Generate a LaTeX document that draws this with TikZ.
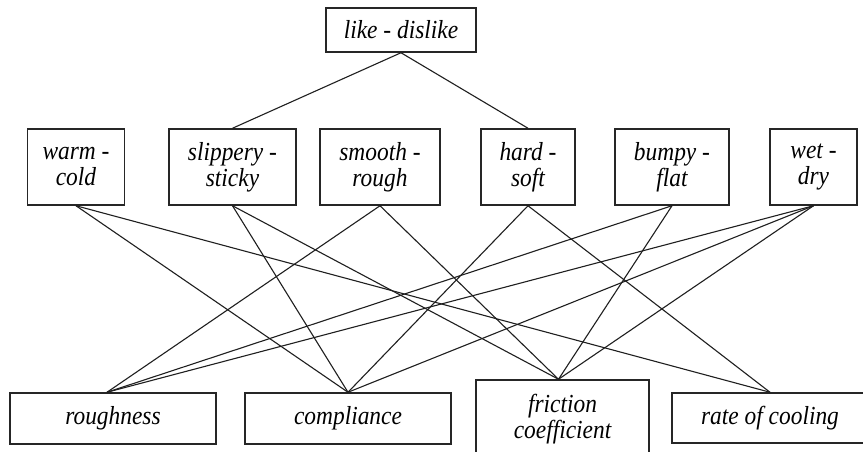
\documentclass[tikz,border=0pt]{standalone}
\usepackage{fontspec}
\setmainfont[FakeStretch=0.9]{Liberation Serif}
\begin{document}
\begin{tikzpicture}[x=1pt,y=-1pt,
  box/.style={draw=black!85, line width=1.5pt, inner sep=0pt, align=center,
    font=\fontsize{26}{26}\selectfont\itshape},
  link/.style={draw=black!88, line width=1.1pt}]
\useasboundingbox (0,0) rectangle (863,452);
\fill[white] (0,0) rectangle (863,452);
\clip (0,0) rectangle (863,452);
% top
\node[box, minimum width=150pt, minimum height=44pt] (like) at (401,30) {like - dislike};
% middle row
\node[box, minimum width=97pt,  minimum height=76pt] (warm) at (76,167) {warm -\\cold};
\node[box, minimum width=127pt, minimum height=76pt] (slip) at (232.5,167) {slippery -\\sticky};
\node[box, minimum width=120pt, minimum height=76pt] (smooth) at (380,167) {smooth -\\rough};
\node[box, minimum width=94pt,  minimum height=76pt] (hard) at (528,167) {hard -\\soft};
\node[box, minimum width=114pt, minimum height=76pt] (bumpy) at (672,167) {bumpy -\\flat};
\node[box, minimum width=87pt,  minimum height=76pt] (wet) at (813.5,167) {wet -\\dry};
% bottom row
\node[box, minimum width=206pt, minimum height=51pt] (rough) at (113,418.5) {roughness};
\node[box, minimum width=206pt, minimum height=51pt] (comp) at (348,418.5) {compliance};
\node[box, minimum width=173pt, minimum height=78pt] (fric) at (562.5,419) {friction\\coefficient};
\node[box, minimum width=196pt, minimum height=50pt] (rate) at (770,418) {rate of cooling};
\coordinate (roughtop) at ([xshift=-6pt]rough.north);
\coordinate (fricttop) at ([xshift=-4pt]fric.north);
% connectors
\draw[link] (like.south) -- (slip.north);
\draw[link] (like.south) -- (hard.north);
\draw[link] (warm.south) -- (comp.north);
\draw[link] (warm.south) -- (rate.north);
\draw[link] (slip.south) -- (comp.north);
\draw[link] (slip.south) -- (fricttop);
\draw[link] (smooth.south) -- (roughtop);
\draw[link] (smooth.south) -- (fricttop);
\draw[link] (hard.south) -- (comp.north);
\draw[link] (hard.south) -- (rate.north);
\draw[link] (bumpy.south) -- (roughtop);
\draw[link] (bumpy.south) -- (fricttop);
\draw[link] (wet.south) -- (roughtop);
\draw[link] (wet.south) -- (comp.north);
\draw[link] (wet.south) -- (fricttop);
\end{tikzpicture}
\end{document}
